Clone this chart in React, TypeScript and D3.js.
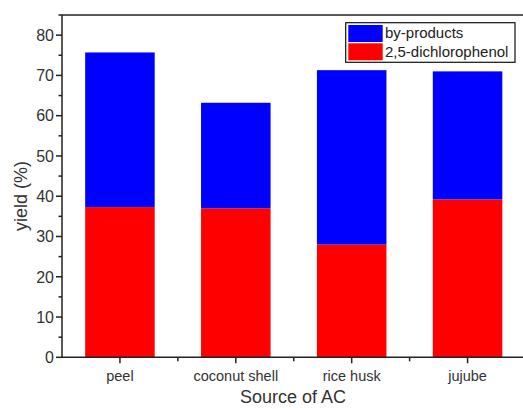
import React, { useRef, useEffect } from 'react';
import * as d3 from 'd3';

const categories = ['peel', 'coconut shell', 'rice husk', 'jujube'];
const dichlorophenol = [37.3, 37.0, 28.0, 39.2];
const byProducts = [38.4, 26.2, 43.3, 31.8];
const yTicks = [0, 10, 20, 30, 40, 50, 60, 70, 80];
const yMinorTicks = [5, 15, 25, 35, 45, 55, 65, 75, 85];
const seriesNames = ['by-products', '2,5-dichlorophenol'];
const seriesColors = ['#0000ff', '#ff0000'];

export default function App() {
  const ref = useRef<SVGSVGElement>(null);

  useEffect(() => {
    const width = 523;
    const height = 409;
    const left = 62;
    const right = 525.5;
    const top = 15;
    const bottom = 357.3;
    const axisColor = '#222';
    const font = 'Arial, "Liberation Sans", sans-serif';

    const svg = d3.select(ref.current);
    svg.selectAll('*').remove();
    svg.attr('width', width).attr('height', height);

    const x = d3
      .scaleBand<string>()
      .domain(categories)
      .range([left, right])
      .paddingInner(0.4)
      .paddingOuter(0.2);

    const y = d3.scaleLinear().domain([0, 85]).range([bottom, top]);

    // stacked bars: red bottom, blue on top
    const rows = categories.map((c, i) => ({
      cat: c,
      red: dichlorophenol[i],
      blue: byProducts[i],
    }));

    svg
      .append('g')
      .selectAll('rect')
      .data(rows)
      .join('rect')
      .attr('x', d => x(d.cat)!)
      .attr('width', x.bandwidth())
      .attr('y', d => y(d.red))
      .attr('height', d => y(0) - y(d.red))
      .attr('fill', seriesColors[1]);

    svg
      .append('g')
      .selectAll('rect')
      .data(rows)
      .join('rect')
      .attr('x', d => x(d.cat)!)
      .attr('width', x.bandwidth())
      .attr('y', d => y(d.red + d.blue))
      .attr('height', d => y(d.red) - y(d.red + d.blue))
      .attr('fill', seriesColors[0]);

    // frame top line
    svg
      .append('line')
      .attr('x1', left)
      .attr('x2', width)
      .attr('y1', top)
      .attr('y2', top)
      .attr('stroke', axisColor)
      .attr('stroke-width', 1.5);

    // Y axis
    const yAxis = svg.append('g').attr('transform', `translate(${left},0)`);
    yAxis
      .append('line')
      .attr('x1', 0)
      .attr('x2', 0)
      .attr('y1', top)
      .attr('y2', bottom)
      .attr('stroke', axisColor)
      .attr('stroke-width', 1.5);
    yAxis
      .selectAll('line.major')
      .data(yTicks)
      .join('line')
      .attr('class', 'major')
      .attr('x1', -6)
      .attr('x2', 0)
      .attr('y1', d => y(d))
      .attr('y2', d => y(d))
      .attr('stroke', axisColor)
      .attr('stroke-width', 1.5);
    yAxis
      .selectAll('line.minor')
      .data(yMinorTicks)
      .join('line')
      .attr('class', 'minor')
      .attr('x1', -3.5)
      .attr('x2', 0)
      .attr('y1', d => y(d))
      .attr('y2', d => y(d))
      .attr('stroke', axisColor)
      .attr('stroke-width', 1.5);
    yAxis
      .selectAll('text')
      .data(yTicks)
      .join('text')
      .attr('x', -8)
      .attr('y', d => y(d))
      .attr('dy', '0.36em')
      .attr('text-anchor', 'end')
      .attr('font-family', font)
      .attr('font-size', 16)
      .attr('fill', '#333')
      .text(d => d);

    // X axis
    const xAxis = svg.append('g').attr('transform', `translate(0,${bottom})`);
    xAxis
      .append('line')
      .attr('x1', left)
      .attr('x2', width)
      .attr('stroke', axisColor)
      .attr('stroke-width', 1.5);
    xAxis
      .selectAll('line.major')
      .data(categories)
      .join('line')
      .attr('class', 'major')
      .attr('x1', d => x(d)! + x.bandwidth() / 2)
      .attr('x2', d => x(d)! + x.bandwidth() / 2)
      .attr('y1', 0)
      .attr('y2', 6)
      .attr('stroke', axisColor)
      .attr('stroke-width', 1.5);
    xAxis
      .selectAll('line.minor')
      .data(categories)
      .join('line')
      .attr('class', 'minor')
      .attr('x1', d => x(d)! + x.bandwidth() / 2 + x.step() / 2)
      .attr('x2', d => x(d)! + x.bandwidth() / 2 + x.step() / 2)
      .attr('y1', 0)
      .attr('y2', 4)
      .attr('stroke', axisColor)
      .attr('stroke-width', 1.5);
    xAxis
      .selectAll('text')
      .data(categories)
      .join('text')
      .attr('x', d => x(d)! + x.bandwidth() / 2)
      .attr('y', 24)
      .attr('text-anchor', 'middle')
      .attr('font-family', font)
      .attr('font-size', 14.5)
      .attr('fill', '#333')
      .text(d => d);

    // axis titles
    svg
      .append('text')
      .attr('x', 293)
      .attr('y', 403)
      .attr('text-anchor', 'middle')
      .attr('font-family', font)
      .attr('font-size', 18)
      .attr('fill', '#333')
      .text('Source of AC');

    svg
      .append('text')
      .attr('transform', `translate(27,196) rotate(-90)`)
      .attr('text-anchor', 'middle')
      .attr('font-family', font)
      .attr('font-size', 18)
      .attr('fill', '#333')
      .text('yield (%)');

    // legend
    const legend = svg.append('g').attr('transform', 'translate(345.7,22.7)');
    legend
      .append('rect')
      .attr('width', 169.3)
      .attr('height', 39.6)
      .attr('fill', '#fff')
      .attr('stroke', '#111')
      .attr('stroke-width', 1.2);
    legend
      .selectAll('rect.swatch')
      .data(seriesNames)
      .join('rect')
      .attr('class', 'swatch')
      .attr('x', 2.6)
      .attr('y', (_, i) => 2.3 + i * 18.3)
      .attr('width', 34.4)
      .attr('height', 17)
      .attr('fill', (_, i) => seriesColors[i]);
    legend
      .selectAll('text')
      .data(seriesNames)
      .join('text')
      .attr('x', 39.3)
      .attr('y', (_, i) => 15 + i * 19)
      .attr('font-family', font)
      .attr('font-size', 15)
      .attr('fill', '#222')
      .text(d => d);
  }, []);

  return (
    <svg
      ref={ref}
      style={{ position: 'absolute', left: 0, top: 0, display: 'block', background: '#fff' }}
    />
  );
}
